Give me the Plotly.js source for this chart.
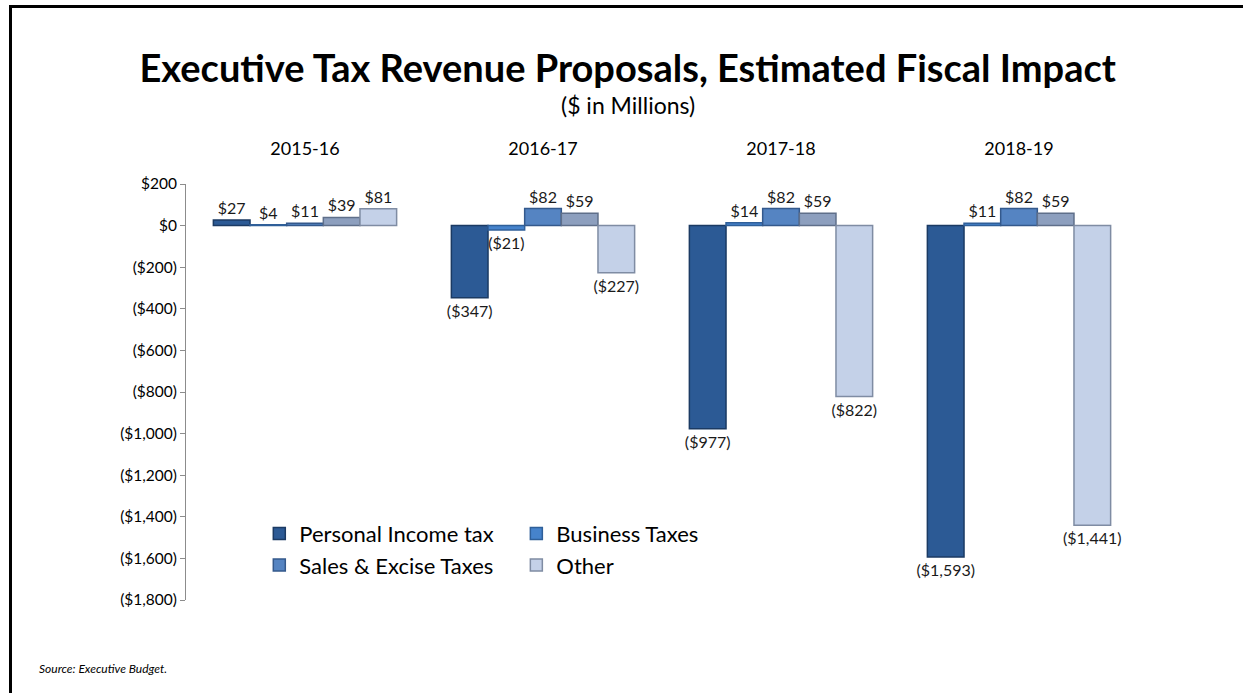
<!DOCTYPE html>
<html>
<head>
<meta charset="utf-8">
<script src="https://cdn.plot.ly/plotly-3.0.1.min.js"></script>
<style>
  body { margin: 0; background: #fff; }
  #chart { position: absolute; left: 0; top: 0; width: 1243px; height: 693px; }
  #frame {
    position: absolute; left: 9px; top: 5px; right: -10px; bottom: -10px;
    border-left: 3px solid #000; border-top: 3px solid #000;
    pointer-events: none;
  }
</style>
</head>
<body>
<div id="chart"></div>
<div id="frame"></div>
<script>
// fiscal years
const years = ['2015-16', '2016-17', '2017-18', '2018-19'];

// $ in millions
const personalIncome = [27, -347, -977, -1593];
const business = [4, -21, 14, 11];
const salesExcise = [11, 82, 82, 82];
const unlabeled = [39, 59, 59, 59];
const other = [81, -227, -822, -1441];

const yTicks = [200, 0, -200, -400, -600, -800, -1000, -1200, -1400, -1600, -1800];

function money(v) {
  const s = '$' + Math.abs(v).toLocaleString('en-US');
  return v < 0 ? '(' + s + ')' : s;
}

const font = 'Lato, "Open Sans", sans-serif';

function barTrace(name, values, fill, edge, legend, show) {
  return {
    type: 'bar',
    name: name,
    x: years,
    y: values,
    text: values.map(money),
    textposition: 'outside',
    constraintext: 'none',
    textfont: { family: font, size: 16, color: '#1a1a1a' },
    cliponaxis: false,
    marker: { color: fill, line: { color: edge, width: 1.5 } },
    legend: legend,
    showlegend: show,
    hoverinfo: 'x+y+name'
  };
}

const traces = [
  barTrace('Personal Income tax', personalIncome, '#2c5a95', '#1b3a63', 'legend', true),
  barTrace('Business Taxes', business, '#4683cc', '#2f5f99', 'legend2', true),
  barTrace('Sales & Excise Taxes', salesExcise, '#5584c2', '#34598c', 'legend', true),
  barTrace('Unlabeled', unlabeled, '#8d9fbe', '#5f6f8a', 'legend', false),
  barTrace('Other', other, '#c4d1e8', '#7f8ca3', 'legend2', true)
];

const yMin = -1800, yMax = 200;

const layout = {
  width: 1243,
  height: 693,
  paper_bgcolor: 'rgba(0,0,0,0)',
  plot_bgcolor: 'rgba(0,0,0,0)',
  margin: { l: 186, r: 105, t: 184, b: 93 },
  barmode: 'group',
  bargap: 0.23,
  bargroupgap: 0,
  font: { family: font, color: '#000' },
  title: {
    text: '<b>Executive Tax Revenue Proposals, Estimated Fiscal Impact</b>',
    font: { family: font, size: 38, color: '#000' },
    x: 0.505, xanchor: 'center',
    y: 1 - 69 / 693, yanchor: 'middle', yref: 'container'
  },
  xaxis: {
    type: 'category',
    side: 'top',
    showline: false,
    ticks: '',
    ticklabelstandoff: 24,
    tickfont: { family: font, size: 18, color: '#000' },
    fixedrange: true
  },
  xaxis2: {
    overlaying: 'x',
    anchor: 'free',
    position: (0 - yMin) / (yMax - yMin),
    range: [-0.5, 3.5],
    showline: true,
    linecolor: '#8c8c8c',
    linewidth: 1,
    ticks: 'outside',
    ticklen: 5,
    tickcolor: '#8c8c8c',
    tickvals: [-0.5, 0, 0.5, 1, 1.5, 2, 2.5, 3, 3.5],
    showticklabels: false,
    showgrid: false,
    zeroline: false
  },
  yaxis: {
    range: [yMin, yMax],
    tickvals: yTicks,
    ticktext: yTicks.map(money),
    tickfont: { family: font, size: 15.5, color: '#000' },
    showline: true,
    linecolor: '#8c8c8c',
    ticks: 'outside',
    ticklen: 5,
    tickcolor: '#8c8c8c',
    showgrid: false,
    zeroline: false,
    fixedrange: true
  },
  legend: {
    x: 0.077, y: 0.21, xanchor: 'left', yanchor: 'top',
    orientation: 'v',
    font: { family: font, size: 22, color: '#000' },
    bgcolor: 'rgba(0,0,0,0)',
    tracegroupgap: 0,
    itemwidth: 30
  },
  legend2: {
    x: 0.347, y: 0.21, xanchor: 'left', yanchor: 'top',
    orientation: 'v',
    font: { family: font, size: 22, color: '#000' },
    bgcolor: 'rgba(0,0,0,0)',
    tracegroupgap: 0,
    itemwidth: 30
  },
  annotations: [
    {
      text: '($ in Millions)',
      xref: 'paper', yref: 'paper',
      x: (628 - 186) / 952, y: (600 - 105) / 416,
      xanchor: 'center', yanchor: 'middle',
      showarrow: false,
      font: { family: font, size: 23, color: '#000' }
    },
    {
      text: '<i>Source: Executive Budget.</i>',
      xref: 'paper', yref: 'paper',
      x: (37 - 186) / 952, y: (600 - 668) / 416,
      xanchor: 'left', yanchor: 'middle',
      showarrow: false,
      font: { family: font, size: 12, color: '#000' }
    }
  ]
};

Plotly.newPlot('chart', traces, layout, { displayModeBar: false });
</script>
</body>
</html>
